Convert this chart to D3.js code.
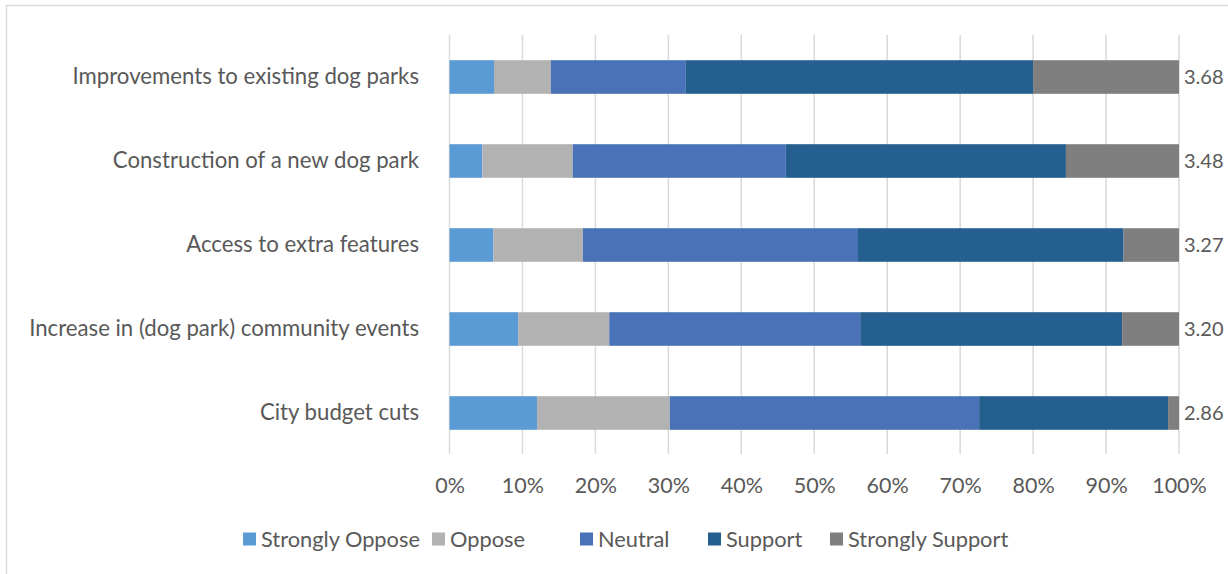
<!DOCTYPE html>
<html>
<head>
<meta charset="utf-8">
<script src="https://cdn.jsdelivr.net/npm/d3@7"></script>
<style>
  html, body { margin: 0; padding: 0; background: #fff; }
  svg text { font-family: Lato, "Open Sans", sans-serif; fill: #595959; }
</style>
</head>
<body>
<svg id="chart" width="1228" height="574"></svg>
<script>
const categories = [
  "Improvements to existing dog parks",
  "Construction of a new dog park",
  "Access to extra features",
  "Increase in (dog park) community events",
  "City budget cuts"
];
const seriesNames = ["Strongly Oppose", "Oppose", "Neutral", "Support", "Strongly Support"];
const stronglyOppose = [6.1, 4.5, 6.0, 9.4, 12.0];
const oppose = [7.8, 12.4, 12.3, 12.5, 18.2];
const neutral = [18.5, 29.2, 37.7, 34.4, 42.4];
const support = [47.6, 38.4, 36.4, 35.9, 25.9];
const stronglySupport = [20.0, 15.5, 7.6, 7.8, 1.5];
const meanScores = ["3.68", "3.48", "3.27", "3.20", "2.86"];
const tickValues = [0, 10, 20, 30, 40, 50, 60, 70, 80, 90, 100];
const colors = ["#5B9BD5", "#B2B2B2", "#4A72B8", "#245F8F", "#7F7F7F"];

const rows = categories.map((c, i) => ({
  category: c,
  "Strongly Oppose": stronglyOppose[i],
  "Oppose": oppose[i],
  "Neutral": neutral[i],
  "Support": support[i],
  "Strongly Support": stronglySupport[i],
  mean: meanScores[i]
}));

const FONT = 'Lato, "Open Sans", sans-serif';
const svg = d3.select("#chart");

// outer border (left and top)
svg.append("path")
  .attr("d", "M6.5,574 L6.5,5.5 L1228,5.5")
  .attr("fill", "none").attr("stroke", "#D9D9D9").attr("stroke-width", 1.5);

const x = d3.scaleLinear().domain([0, 100]).range([449.5, 1179]);
const y = d3.scaleBand().domain(categories).range([35, 455]).paddingInner(0.6).paddingOuter(0.3);

// gridlines
svg.append("g").selectAll("line").data(tickValues).join("line")
  .attr("x1", d => x(d)).attr("x2", d => x(d))
  .attr("y1", 35).attr("y2", 454)
  .attr("stroke", "#D9D9D9").attr("stroke-width", 1.5);

const stack = d3.stack().keys(seriesNames)(rows);
const color = d3.scaleOrdinal().domain(seriesNames).range(colors);

svg.append("g").selectAll("g").data(stack).join("g")
  .attr("fill", d => color(d.key))
  .selectAll("rect").data(d => d).join("rect")
  .attr("x", d => x(d[0]))
  .attr("width", d => x(d[1]) - x(d[0]))
  .attr("y", d => y(d.data.category))
  .attr("height", y.bandwidth());

// category labels
const yAxis = d3.axisLeft(y).tickSize(0).tickPadding(0);
const ya = svg.append("g").attr("transform", "translate(419,0)").call(yAxis);
ya.select(".domain").remove();
ya.selectAll("text").style("font-size", "22.2px").attr("fill", "#595959")
  .style("font-family", FONT);

// x axis
const xAxis = d3.axisBottom(x).tickValues(tickValues).tickFormat(d => d + "%").tickSize(0).tickPadding(0);
const xa = svg.append("g").attr("transform", "translate(0,478)").call(xAxis);
xa.select(".domain").remove();
xa.selectAll("text").style("font-size", "21.5px").attr("fill", "#595959")
  .style("font-family", FONT);

// mean labels
svg.append("g").selectAll("text").data(rows).join("text")
  .attr("x", x(100) + 5)
  .attr("y", d => y(d.category) + y.bandwidth() / 2)
  .attr("dy", "0.35em")
  .style("font-size", "20px")
  .text(d => d.mean);

// legend
const legendX = [243, 432, 580, 708, 830];
const lg = svg.append("g").selectAll("g").data(seriesNames).join("g")
  .attr("transform", (d, i) => `translate(${legendX[i]},539)`);
lg.append("rect").attr("x", 0).attr("y", -6.5).attr("width", 13).attr("height", 13)
  .attr("fill", d => color(d));
lg.append("text").attr("x", 18).attr("dy", "0.35em").style("font-size", "21.8px").text(d => d);
</script>
</body>
</html>
